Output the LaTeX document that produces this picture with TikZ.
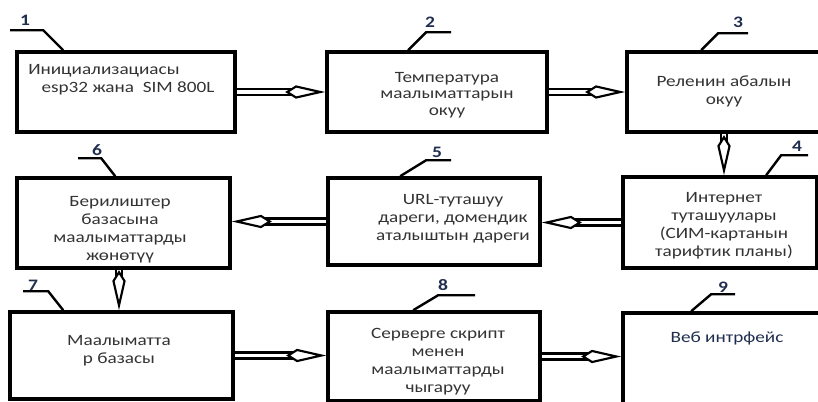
\documentclass[tikz,border=0pt]{standalone}
\usepackage{fontspec}
\newfontfamily\boxfont[FakeStretch=1.22]{Carlito}
\usetikzlibrary{arrows.meta,calc,fit}
\definecolor{txtgray}{HTML}{333333}
\definecolor{numblue}{HTML}{1F2E4F}
\tikzset{
  box/.style={draw, line width=2.7pt, inner sep=0pt},
  lbl/.style={font=\boxfont\fontsize{11.8}{13.5}\selectfont, text=txtgray, align=center, inner sep=0pt},
  num/.style={font=\boxfont\bfseries\fontsize{12}{14}\selectfont, text=numblue, inner sep=0pt},
  lead/.style={line width=1.8pt},
  flow/.style={double, double distance=2.6pt, line width=1.8pt,
    -{Kite[fill=white, length=30pt, width=10pt, inset=8pt, line width=1.6pt]}},
}
\begin{document}
\begin{tikzpicture}[x=0.75pt, y=-0.75pt]
	\useasboundingbox (0,0) rectangle (818,401);
	\clip (0,0) rectangle (818,401);
	% blocks
	\node[box, fit={(17,52) (235,132)}] (b1) {};
	\node[box, fit={(327,52) (547,132)}] (b2) {};
	\node[box, fit={(627,52) (840,132)}] (b3) {};
	\node[box, fit={(623,177) (817,268)}] (b4) {};
	\node[box, fit={(328,178) (540,265)}] (b5) {};
	\node[box, fit={(17,178) (230,268)}] (b6) {};
	\node[box, fit={(10,312) (233,399)}] (b7) {};
	\node[box, fit={(328,312) (540,401)}] (b8) {};
	\node[box, fit={(623,313) (840,420)}] (b9) {};
	% texts
	\node[lbl, align=left, anchor=west] (t1) at (28,80) {Инициализациасы\\\hspace*{10pt}esp32 жана\ \ SIM 800L};
	\node[lbl, font=\boxfont\fontsize{11.8}{12.5}\selectfont] (t2) at (447,95) {Температура\\маалыматтарын\\окуу};
	\node[lbl] (t3) at (724,91) {Реленин абалын\\окуу};
	\node[lbl] (t4) at (724,226) {Интернет\\туташуулары\\(СИМ-картанын\\тарифтик планы)};
	\node[lbl] (t5) at (453,219) {URL-туташуу\\дареги, домендик\\аталыштын дареги};
	\node[lbl] (t6) at (120,230) {Берилиштер\\базасына\\маалыматтарды\\жөнөтүү};
	\node[lbl] (t7) at (119,351) {Маалыматта\\р базасы};
	\node[lbl] (t8) at (438,362) {Серверге скрипт\\менен\\маалыматтарды\\чыгаруу};
	\node[lbl, text=numblue] (t9) at (727,338) {Веб интрфейс};
	% numbers
	\node[num] (n1) at (25,20) {1};
	\node[num] (n2) at (430,22) {2};
	\node[num] (n3) at (738,22) {3};
	\node[num] (n4) at (797,146) {4};
	\node[num] (n5) at (437,152) {5};
	\node[num] (n6) at (97,150) {6};
	\node[num] (n7) at (33,285) {7};
	\node[num] (n8) at (443,285) {8};
	\node[num] (n9) at (723,287) {9};
	\draw[lead] ($(b1.north west)+(48,0)$) -- ++(-20,-20) -- ++(-33,0);
	\draw[lead] ($(b2.north west)+(83,0)$) -- ++(18,-18) -- ++(25,0);
	\draw[lead] ($(b3.north west)+(76,0)$) -- ++(17,-17) -- ++(30,0);
	\draw[lead] ($(b4.north west)+(145,0)$) -- ++(15,-20) -- ++(27,0);
	\draw[lead] ($(b5.north west)+(74,0)$) -- ++(26,-16) -- ++(25,0);
	\draw[lead] ($(b6.north west)+(100,0)$) -- ++(-14,-18) -- ++(-23,0);
	\draw[lead] ($(b7.north west)+(55,0)$) -- ++(-15,-19) -- ++(-25,0);
	\draw[lead] ($(b8.north west)+(87,0)$) -- ++(25,-15) -- ++(37,0);
	\draw[lead] ($(b9.north west)+(70,0)$) -- ++(20,-17) -- ++(24,0);
	% arrows
	\draw[flow] (b1.east) -- (b2.west);
	\draw[flow] (b2.east) -- (b3.west);
	\draw[flow] (b3.south -| t3) -- (b4.north -| t3);
	\draw[flow] (b4.west) -- (b4.west -| b5.east);
	\draw[flow] (b5.west) -- (b5.west -| b6.east);
	\draw[flow] (b6.south -| t7) -- (b7.north -| t7);
	\draw[flow] (b7.east) -- (b7.east -| b8.west);
	\draw[flow] (b8.east) -- (b8.east -| b9.west);
\end{tikzpicture}
\end{document}
